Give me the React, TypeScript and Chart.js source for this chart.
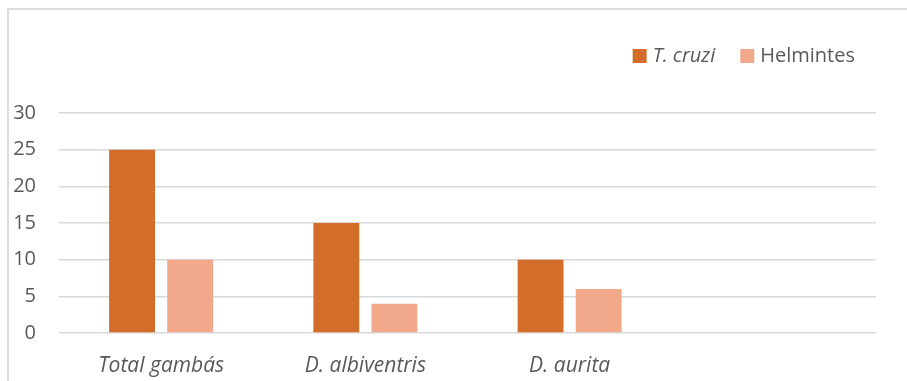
import React, { useEffect, useRef } from "react";
import { Chart, registerables } from "chart.js";

Chart.register(...registerables);

const categories = ["Total gambás", "D. albiventris", "D. aurita", ""];
const tCruzi = [25, 15, 10, null];
const helmintes = [10, 4, 6, null];
const seriesNames = ["T. cruzi", "Helmintes"];
const seriesItalic = [true, false];
const yTicks = [0, 5, 10, 15, 20, 25, 30];

const ORANGE = "#D26E2A";
const SALMON = "#F1A88B";
const TEXT = "#595959";
const GRID = "#d9d9d9";
const FONT = "'Open Sans', Lato, sans-serif";
const FS = 20;

const legendPlugin = {
  id: "customLegend",
  afterDraw(chart: any) {
    const ctx = chart.ctx;
    const colors = [ORANGE, SALMON];
    ctx.save();
    const widths = seriesNames.map((n, i) => {
      ctx.font = `${seriesItalic[i] ? "italic " : ""}${FS}px ${FONT}`;
      return ctx.measureText(n).width;
    });
    const box = 14;
    const gapBoxText = 6;
    const gapItems = 25;
    const total = widths.reduce((a, w) => a + box + gapBoxText + w, 0) + gapItems;
    let x = chart.width - 52 - total;
    const cy = 56;
    seriesNames.forEach((n, i) => {
      ctx.fillStyle = colors[i];
      ctx.fillRect(x, cy - box / 2, box, box);
      x += box + gapBoxText;
      ctx.font = `${seriesItalic[i] ? "italic " : ""}${FS}px ${FONT}`;
      ctx.fillStyle = TEXT;
      ctx.textBaseline = "middle";
      ctx.textAlign = "left";
      ctx.fillText(n, x, cy);
      x += widths[i] + gapItems;
    });
    ctx.restore();
  },
};

export default function App() {
  const ref = useRef<HTMLCanvasElement>(null);
  useEffect(() => {
    if (!ref.current) return;
    const chart = new Chart(ref.current, {
      type: "bar",
      data: {
        labels: categories,
        datasets: [
          {
            label: seriesNames[0],
            data: tCruzi,
            backgroundColor: ORANGE,
            categoryPercentage: 0.569,
            barPercentage: 0.79,
          },
          {
            label: seriesNames[1],
            data: helmintes,
            backgroundColor: SALMON,
            categoryPercentage: 0.569,
            barPercentage: 0.79,
          },
        ],
      },
      options: {
        animation: false,
        responsive: false,
        maintainAspectRatio: false,
        layout: { padding: { top: 113, right: 31, left: 0, bottom: 0 } },
        plugins: {
          legend: { display: false },
          tooltip: { enabled: false },
        },
        scales: {
          x: {
            grid: { display: false },
            border: { display: false },
            ticks: {
              color: TEXT,
              padding: 12,
              font: { family: FONT, size: 21, style: "italic" },
            },
            afterFit: (s: any) => {
              s.height = 48;
            },
          },
          y: {
            min: 0,
            max: 30,
            afterBuildTicks: (s: any) => {
              s.ticks = yTicks.map((v) => ({ value: v }));
            },
            grid: { color: GRID, lineWidth: 1.5, drawTicks: false },
            border: { display: false },
            ticks: {
              color: TEXT,
              padding: 23,
              font: { family: FONT, size: FS },
            },
            afterFit: (s: any) => {
              s.width = 59;
            },
          },
        },
      },
      plugins: [legendPlugin],
    });
    return () => chart.destroy();
  }, []);
  return (
    <div style={{ position: "fixed", left: 0, top: 0, width: 907, height: 381, background: "#fff" }}>
      <canvas ref={ref} width={907} height={381} style={{ position: "absolute", left: 0, top: 0 }} />
      <div
        style={{
          position: "absolute",
          left: 7,
          top: 8,
          width: 1000,
          height: 500,
          borderLeft: "2px solid #dcdcdc",
          borderTop: "2px solid #dcdcdc",
          pointerEvents: "none",
        }}
      />
    </div>
  );
}
